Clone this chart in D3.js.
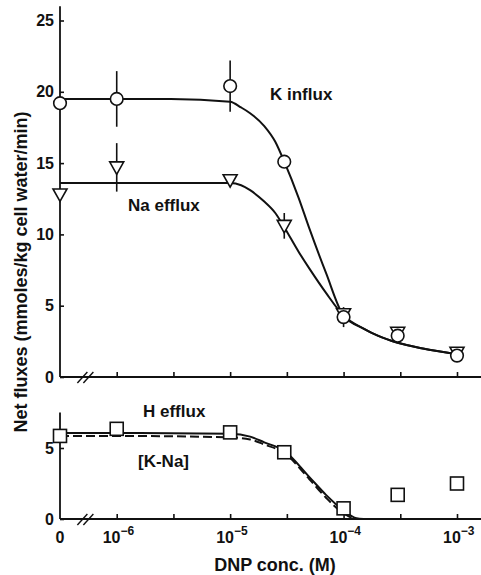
<!DOCTYPE html>
<html>
<head>
<meta charset="utf-8">
<script src="https://cdn.jsdelivr.net/npm/d3@7"></script>
<style>
  html, body { margin: 0; padding: 0; background: #fff; }
  svg { display: block; }
  text { font-family: "Liberation Sans", Arial, sans-serif; font-weight: bold; fill: #111; }
</style>
</head>
<body>
<svg id="chart" width="481" height="575"></svg>
<script>
// DNP concentrations (M); 0 is the control, drawn at the axis break origin
const conc = [0, 1e-6, 1e-5, 3e-5, 1e-4, 3e-4, 1e-3];

// Upper panel: measured fluxes (mmoles/kg cell water/min)
const kInflux = [19.2, 19.5, 20.4, 15.1, 4.2, 2.9, 1.5];
const kErr    = [null, 1.95, 1.8, null, 0.7, null, 0.45];
const naEfflux = [12.8, 14.7, 13.8, 10.6, 4.4, 3.1, 1.7];
const naErr    = [null, 1.7, null, 0.9, null, null, null];

// Lower panel: net H efflux
const hEfflux = [5.85, 6.35, 6.1, 4.7, 0.75, 1.7, 2.5];

// Fitted curves, upper panel
const fitConc = [0, 1e-6, 3e-6, 1e-5, 1.25e-5, 1.5e-5, 2e-5, 2.5e-5, 3e-5, 4e-5, 5e-5, 7e-5, 1e-4, 1.5e-4, 2e-4, 3e-4, 5e-4, 1e-3];
const kFit  = [19.5, 19.5, 19.5, 19.3, 18.9, 18.5, 17.6, 16.5, 15.1, 12.6, 10.4, 7.3, 4.3, 3.4, 2.9, 2.4, 2.0, 1.6];
const naFit = [13.6, 13.6, 13.6, 13.6, 13.45, 13.1, 12.3, 11.5, 10.5, 8.8, 7.6, 5.9, 4.3, 3.4, 2.9, 2.4, 2.0, 1.6];

// Fitted curves, lower panel: H efflux (solid) and K-Na difference (dashed)
const hFitConc = [0, 1e-6, 1e-5, 1.5e-5, 2e-5, 3e-5, 5e-5, 7e-5, 1e-4, 1.3e-4, 1.5e-4];
const hFit   = [6.05, 6.05, 6.0, 5.8, 5.4, 4.8, 2.95, 1.7, 0.6, 0.05, 0];
const kNaFit = [5.85, 5.85, 5.75, 5.6, 5.25, 4.65, 2.8, 1.5, 0.4, 0, 0];

// Axis ticks
const xTicks = [1e-6, 10 ** -5.5, 1e-5, 10 ** -4.5, 1e-4, 10 ** -3.5, 1e-3];
const xLabels = [
  { c: 0, base: "0", exp: "" },
  { c: 1e-6, base: "10", exp: "-6" },
  { c: 1e-5, base: "10", exp: "-5" },
  { c: 1e-4, base: "10", exp: "-4" },
  { c: 1e-3, base: "10", exp: "-3" }
];
const topYTicks = [0, 5, 10, 15, 20, 25];
const botYTicks = [0, 5];

const W = 481;
const svg = d3.select("#chart");

// Control (0 M) sits half a decade below 1e-6, at the axis break
const ZERO_AT = 10 ** -6.5;
const xLog = d3.scaleLog().domain([ZERO_AT, 1e-3]).range([60, 457]);
const x = c => xLog(c === 0 ? ZERO_AT : c);

const yTop = d3.scaleLinear().domain([0, 25]).range([377, 20.5]);
const yBot = d3.scaleLinear().domain([0, 5]).range([519, 448]);

function drawAxes(y, yTicks, yMax) {
  const g = svg.append("g");
  // y axis line
  g.append("line")
    .attr("x1", x(0)).attr("x2", x(0))
    .attr("y1", y(0)).attr("y2", y(yMax))
    .attr("stroke", "#111").attr("stroke-width", 1.8);
  // x axis line, running to the right edge
  g.append("line")
    .attr("x1", x(0)).attr("x2", W)
    .attr("y1", y(0)).attr("y2", y(0))
    .attr("stroke", "#111").attr("stroke-width", 1.8);

  const ya = g.append("g").attr("transform", `translate(${x(0)},0)`)
    .call(d3.axisLeft(y).tickValues(yTicks).tickFormat(d3.format("d"))
      .tickSizeInner(-4).tickSizeOuter(0).tickPadding(6));
  ya.select(".domain").remove();
  ya.selectAll("line").attr("stroke", "#111").attr("stroke-width", 1.6);
  ya.selectAll("text").attr("font-size", 16)
    .style("font-family", "'Liberation Sans', Arial, sans-serif")
    .style("font-weight", "bold").attr("fill", "#111");

  const xa = g.append("g").attr("transform", `translate(0,${y(0)})`)
    .call(d3.axisBottom(xLog).tickValues(xTicks).tickSizeInner(-5).tickSizeOuter(0).tickFormat(""));
  xa.select(".domain").remove();
  xa.selectAll("line").attr("stroke", "#111").attr("stroke-width", 1.6);

  // axis break marks
  const bx = (x(0) + x(1e-6)) / 2 - 3;
  [-3, 3].forEach(o => {
    g.append("line")
      .attr("x1", bx + o - 5).attr("y1", y(0) + 6)
      .attr("x2", bx + o + 5).attr("y2", y(0) - 5)
      .attr("stroke", "#111").attr("stroke-width", 1.4);
  });
}

drawAxes(yTop, topYTicks, 26);
drawAxes(yBot, botYTicks, 7.5);

// x tick labels under the lower panel
const lab = svg.append("g");
xLabels.forEach(d => {
  const t = lab.append("text")
    .attr("y", 543)
    .attr("font-size", 16);
  if (d.exp) {
    t.attr("x", x(d.c) - 14).attr("text-anchor", "start");
    t.append("tspan").text(d.base);
    t.append("tspan").attr("dy", -8).attr("font-size", 12).text("\u2212" + d.exp.slice(1));
  } else {
    t.attr("x", x(d.c)).attr("text-anchor", "middle").text(d.base);
  }
});

svg.append("text")
  .attr("x", 275).attr("y", 571)
  .attr("text-anchor", "middle").attr("font-size", 18)
  .text("DNP conc. (M)");

svg.append("text")
  .attr("transform", "translate(27,272) rotate(-90)")
  .attr("text-anchor", "middle").attr("font-size", 18)
  .text("Net fluxes (mmoles/kg cell water/min)");

// Curves
function curve(cs, vs, y, dash) {
  const line = d3.line()
    .x(i => x(cs[i]))
    .y(i => y(vs[i]))
    .curve(d3.curveMonotoneX);
  svg.append("path")
    .attr("d", line(d3.range(cs.length)))
    .attr("fill", "none").attr("stroke", "#111")
    .attr("stroke-width", 2)
    .attr("stroke-dasharray", dash || null);
}
curve(fitConc, kFit, yTop);
curve(fitConc, naFit, yTop);
curve(hFitConc, hFit, yBot);
curve(hFitConc, kNaFit, yBot, "9,4");

// Error bars
function errBars(vals, errs, y) {
  conc.forEach((c, i) => {
    if (errs[i] == null) return;
    svg.append("line")
      .attr("x1", x(c)).attr("x2", x(c))
      .attr("y1", y(vals[i] - errs[i])).attr("y2", y(vals[i] + errs[i]))
      .attr("stroke", "#111").attr("stroke-width", 1.6);
  });
}
errBars(naEfflux, naErr, yTop);
errBars(kInflux, kErr, yTop);

// Na efflux: downward triangles
svg.append("g").selectAll("path")
  .data(conc.map((c, i) => [c, naEfflux[i]]))
  .join("path")
  .attr("transform", d => `translate(${x(d[0])},${yTop(d[1])})`)
  .attr("d", "M-7,-5.5L7,-5.5L0,7Z")
  .attr("fill", "#fff").attr("stroke", "#111").attr("stroke-width", 1.6);

// K influx: open circles
svg.append("g").selectAll("circle")
  .data(conc.map((c, i) => [c, kInflux[i]]))
  .join("circle")
  .attr("cx", d => x(d[0])).attr("cy", d => yTop(d[1]))
  .attr("r", 6.3)
  .attr("fill", "#fff").attr("stroke", "#111").attr("stroke-width", 1.6);

// H efflux: open squares
svg.append("g").selectAll("rect")
  .data(conc.map((c, i) => [c, hEfflux[i]]))
  .join("rect")
  .attr("x", d => x(d[0]) - 6.5).attr("y", d => yBot(d[1]) - 6.5)
  .attr("width", 13).attr("height", 13)
  .attr("fill", "#fff").attr("stroke", "#111").attr("stroke-width", 1.6);

// Series labels
const notes = [
  { t: "K influx", x: 270, y: 100 },
  { t: "Na efflux", x: 128, y: 211 },
  { t: "H efflux", x: 143, y: 417 },
  { t: "[K-Na]", x: 138, y: 467 }
];
svg.append("g").selectAll("text")
  .data(notes).join("text")
  .attr("x", d => d.x).attr("y", d => d.y)
  .attr("font-size", 17)
  .text(d => d.t);
</script>
</body>
</html>
